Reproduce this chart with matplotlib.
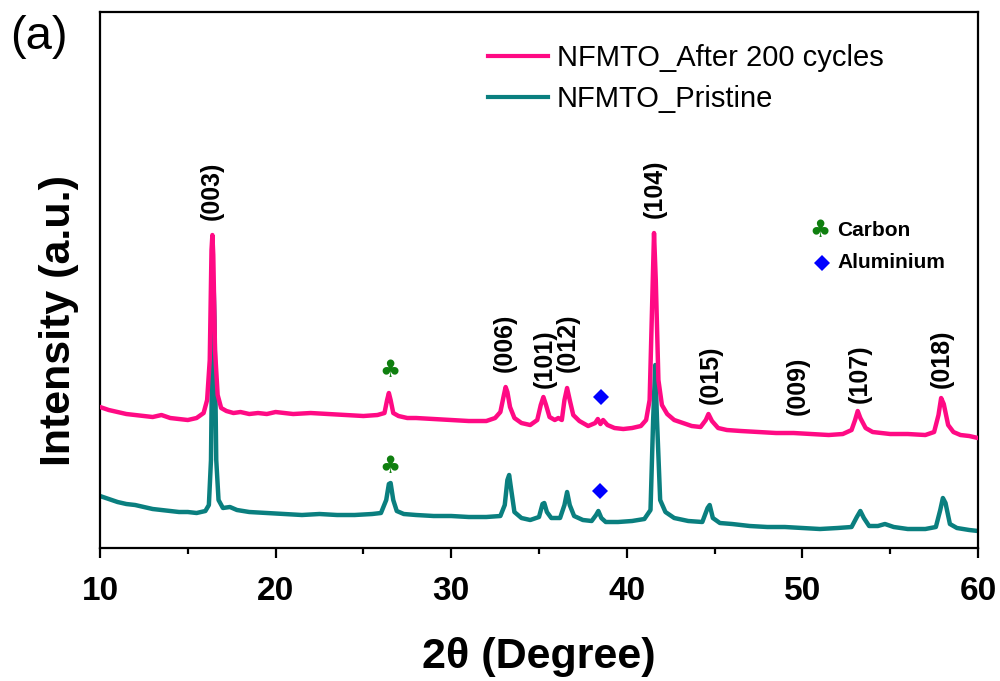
import matplotlib
matplotlib.use("Agg")
import matplotlib.pyplot as plt
from matplotlib.lines import Line2D

plt.rcParams['font.family'] = ['Liberation Sans', 'DejaVu Sans']

# 2theta (degree) and intensity (a.u.)
two_theta_cycled = [10.0, 10.5, 11.0, 11.5, 12.0, 12.5, 13.0, 13.5, 14.0, 14.5, 15.0, 15.5, 15.9, 16.1,
                    16.25, 16.35, 16.4, 16.45, 16.55, 16.7, 16.9, 17.2, 17.6, 18.0, 18.5, 19.0, 19.5, 20.0,
                    21.0, 22.0, 23.0, 24.0, 25.0, 25.8, 26.2, 26.35, 26.45, 26.55, 26.7, 27.0, 27.5, 28.0,
                    29.0, 30.0, 31.0, 32.0, 32.5, 32.8, 33.0, 33.1, 33.2, 33.35, 33.6, 34.0, 34.5, 34.9,
                    35.1, 35.25, 35.4, 35.6, 35.9, 36.1, 36.3, 36.45, 36.6, 36.75, 36.95, 37.3, 37.8, 38.2,
                    38.35, 38.5, 38.65, 38.9, 39.3, 39.8, 40.3, 40.8, 41.1, 41.3, 41.45, 41.55, 41.65, 41.8,
                    42.0, 42.3, 42.7, 43.2, 43.7, 44.2, 44.5, 44.65, 44.85, 45.2, 45.7, 46.5, 47.5, 48.5,
                    49.5, 50.5, 51.5, 52.3, 52.8, 53.0, 53.15, 53.3, 53.6, 54.0, 55.0, 56.0, 57.0, 57.5,
                    57.75, 57.9, 58.05, 58.3, 58.6, 59.0, 59.5, 60.0]
intensity_cycled = [141, 138, 136, 134, 133, 132, 131, 133, 130, 129, 128, 130, 135, 148,
                    188, 298, 313, 293, 198, 153, 140, 137, 135, 136, 134, 135, 134, 136,
                    134, 135, 134, 133, 132, 133, 135, 148, 155, 148, 135, 132, 130, 130,
                    129, 128, 127, 127, 130, 136, 153, 161, 156, 141, 130, 125, 123, 128,
                    143, 151, 143, 131, 128, 130, 128, 148, 160, 148, 133, 127, 122, 125,
                    129, 124, 128, 123, 120, 119, 120, 122, 128, 148, 248, 315, 268, 168,
                    143, 134, 128, 125, 122, 121, 128, 134, 127, 120, 118, 117, 116, 115,
                    115, 114, 113, 114, 118, 128, 137, 130, 120, 116, 114, 114, 113, 116,
                    133, 150, 144, 123, 116, 113, 112, 110]

two_theta_pristine = [10.0, 10.5, 11.0, 11.5, 12.0, 12.5, 13.0, 13.5, 14.0, 14.5, 15.0, 15.5, 16.0, 16.2,
                      16.32, 16.42, 16.47, 16.52, 16.62, 16.75, 17.0, 17.4, 17.8, 18.5, 19.5, 20.5, 21.5, 22.5,
                      23.5, 24.5, 25.5, 26.0, 26.3, 26.45, 26.55, 26.7, 26.9, 27.3, 28.0, 29.0, 30.0, 31.0,
                      32.0, 32.8, 33.05, 33.2, 33.3, 33.42, 33.6, 34.0, 34.5, 35.0, 35.2, 35.3, 35.45, 35.7,
                      36.2, 36.45, 36.6, 36.75, 37.0, 37.5, 38.0, 38.25, 38.38, 38.55, 38.8, 39.5, 40.3, 41.0,
                      41.35, 41.5, 41.62, 41.72, 41.9, 42.2, 42.7, 43.5, 44.3, 44.6, 44.72, 44.9, 45.3, 46.0,
                      47.0, 48.0, 49.0, 50.0, 51.0, 52.0, 52.8, 53.1, 53.3, 53.5, 53.8, 54.3, 54.7, 55.2,
                      56.0, 57.0, 57.6, 57.85, 58.0, 58.15, 58.4, 58.8, 59.5, 60.0]
intensity_pristine = [52, 49, 46, 44, 43, 41, 39, 38, 37, 36, 36, 35, 37, 43,
                      88, 248, 263, 228, 88, 48, 40, 41, 38, 36, 35, 34, 33, 34,
                      33, 33, 34, 35, 48, 64, 65, 48, 37, 34, 33, 32, 32, 31,
                      31, 32, 43, 68, 73, 58, 36, 30, 28, 31, 44, 45, 36, 30,
                      30, 43, 56, 43, 32, 28, 27, 33, 37, 30, 26, 26, 27, 29,
                      38, 128, 183, 128, 48, 36, 30, 27, 26, 40, 43, 30, 25, 24,
                      22, 21, 21, 20, 19, 20, 21, 31, 37, 30, 22, 22, 24, 21,
                      19, 19, 21, 38, 50, 45, 24, 20, 18, 17]

# (hkl) labels: position, bottom of the label
hkl_labels = ['(003)', '(006)', '(101)', '(012)', '(104)', '(015)', '(009)', '(107)', '(018)']
hkl_x = [16.38, 33.06, 35.34, 36.65, 41.6, 44.8, 49.75, 53.28, 57.95]
hkl_y = [328, 176, 160, 176, 330, 144, 133, 145, 160]

# impurity markers: carbon (clubs) and aluminium (diamonds)
carbon_x = [26.5, 26.5]
carbon_y = [178, 82]
aluminium_x = [38.53, 38.47]
aluminium_y = [151, 57]

color_cycled = '#ff0a84'
color_pristine = '#0a7f7f'

fig = plt.figure(figsize=(10, 6.81), dpi=100)
ax = fig.add_axes([0.100, 0.1953, 0.878, 0.787])

ax.plot(two_theta_pristine, intensity_pristine, color=color_pristine, lw=3.2, zorder=2)
ax.plot(two_theta_cycled, intensity_cycled, color=color_cycled, lw=3.2, zorder=3)

for lab, x, y in zip(hkl_labels, hkl_x, hkl_y):
    ax.text(x, y, lab, rotation=90, ha='center', va='bottom', fontsize=18, fontweight='bold')

for x, y in zip(carbon_x, carbon_y):
    ax.text(x, y, '\u2663', color='#0f7f0f', fontsize=17, ha='center', va='center',
            family='DejaVu Sans')
ax.plot(aluminium_x, aluminium_y, linestyle='none', marker='D', markersize=8.5,
        color='#0000ff', markeredgewidth=0)

# symbol key
ax.text(0.820, 0.593, '\u2663', transform=ax.transAxes, color='#0f7f0f', fontsize=17,
        ha='center', va='center', family='DejaVu Sans')
ax.text(0.840, 0.593, 'Carbon', transform=ax.transAxes, fontsize=15, fontweight='bold', va='center')
ax.plot([0.822], [0.532], transform=ax.transAxes, marker='D', markersize=8.5, color='#0000ff',
        markeredgewidth=0, linestyle='none')
ax.text(0.840, 0.532, 'Aluminium', transform=ax.transAxes, fontsize=15, fontweight='bold', va='center')

handles = [Line2D([], [], color=color_cycled, lw=3), Line2D([], [], color=color_pristine, lw=3)]
ax.legend(handles, ['NFMTO_After 200 cycles', 'NFMTO_Pristine'], loc='upper left',
          bbox_to_anchor=(0.442, 0.940), frameon=False, fontsize=21, handlelength=2.05,
          handletextpad=0.3, labelspacing=0.45, borderpad=0, borderaxespad=0)

ax.set_xlim(10, 60)
ax.set_ylim(0, 536)
ax.set_xticks([10, 20, 30, 40, 50, 60])
ax.set_xticks([15, 25, 35, 45, 55], minor=True)
ax.set_yticks([])
ax.tick_params(axis='x', which='major', direction='out', length=7, width=1.6, labelsize=24, pad=13)
ax.tick_params(axis='x', which='minor', direction='out', length=4, width=1.6)
for lbl in ax.get_xticklabels():
    lbl.set_fontweight('bold')
for s in ax.spines.values():
    s.set_linewidth(1.6)

ax.set_xlabel('2\u03b8 (Degree)', fontsize=31, fontweight='bold', labelpad=22)
ax.set_ylabel('Intensity (a.u.)', fontsize=31, fontweight='bold')
ax.yaxis.set_label_coords(-0.024, 0.425)

fig.text(0.010, 0.978, '(a)', fontsize=34, va='top', ha='left')

fig.savefig('out.png', dpi=100)
